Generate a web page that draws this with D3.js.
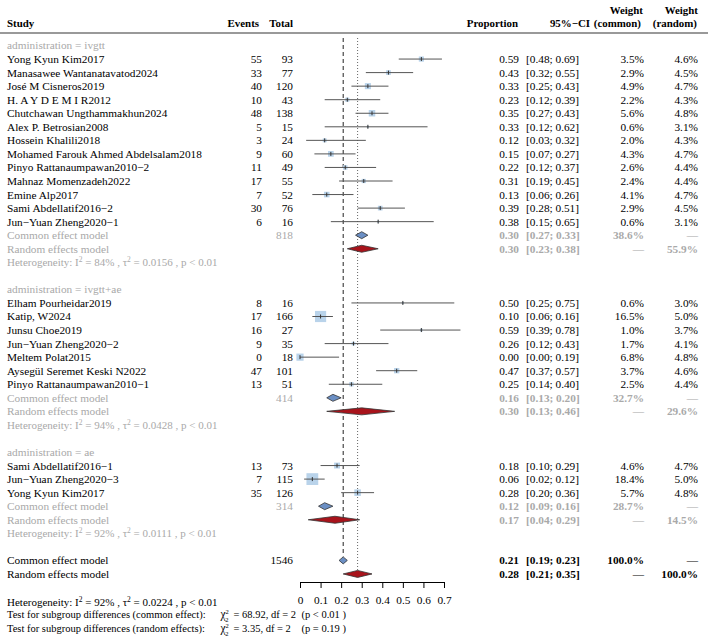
<!DOCTYPE html>
<html>
<head>
<meta charset="utf-8">
<script src="https://cdn.jsdelivr.net/npm/d3@7/dist/d3.min.js"></script>
<style>
  body { margin: 0; background: #fff; }
</style>
</head>
<body>
<div id="chart"></div>
<script>
// subgroup labels
const groups = ["ivgtt", "ivgtt+ae", "ae"];

// studies, in plotting order
const studyNames = [
  "Yong Kyun Kim2017", "Manasawee Wantanatavatod2024", "José M Cisneros2019", "H. A Y D E M I R2012",
  "Chutchawan Ungthammakhun2024", "Alex P. Betrosian2008", "Hossein Khalili2018",
  "Mohamed Farouk Ahmed Abdelsalam2018", "Pinyo Rattanaumpawan2010\u22122", "Mahnaz Momenzadeh2022",
  "Emine Alp2017", "Sami Abdellatif2016\u22122", "Jun\u2212Yuan Zheng2020\u22121",
  "Elham Pourheidar2019", "Katip, W2024", "Junsu Choe2019", "Jun\u2212Yuan Zheng2020\u22122",
  "Meltem Polat2015", "Aysegül Seremet Keski N2022", "Pinyo Rattanaumpawan2010\u22121",
  "Sami Abdellatif2016\u22121", "Jun\u2212Yuan Zheng2020\u22123", "Yong Kyun Kim2017"
];
const studyGroup = [0,0,0,0,0,0,0,0,0,0,0,0,0, 1,1,1,1,1,1,1, 2,2,2];
const events = [55,33,40,10,48,5,3,9,11,17,7,30,6, 8,17,16,9,0,47,13, 13,7,35];
const totals = [93,77,120,43,138,15,24,60,49,55,52,76,16, 16,166,27,35,18,101,51, 73,115,126];
const props  = [0.59,0.43,0.33,0.23,0.35,0.33,0.12,0.15,0.22,0.31,0.13,0.39,0.38, 0.50,0.10,0.59,0.26,0.00,0.47,0.25, 0.18,0.06,0.28];
const lowers = [0.48,0.32,0.25,0.12,0.27,0.12,0.03,0.07,0.12,0.19,0.06,0.28,0.15, 0.25,0.06,0.39,0.12,0.00,0.37,0.14, 0.10,0.02,0.20];
const uppers = [0.69,0.55,0.43,0.39,0.43,0.62,0.32,0.27,0.37,0.45,0.26,0.51,0.65, 0.75,0.16,0.78,0.43,0.19,0.57,0.40, 0.29,0.12,0.36];
const wCommon = [3.5,2.9,4.9,2.2,5.6,0.6,2.0,4.3,2.6,2.4,4.1,2.9,0.6, 0.6,16.5,1.0,1.7,6.8,3.7,2.5, 4.6,18.4,5.7];
const wRandom = [4.6,4.5,4.7,4.3,4.8,3.1,4.3,4.7,4.4,4.4,4.7,4.5,3.1, 3.0,5.0,3.7,4.1,4.8,4.6,4.4, 4.7,5.0,4.8];

// subgroup summaries
const grpN = [818, 414, 314];
const grpCommon = [[0.30,0.27,0.33],[0.16,0.13,0.20],[0.12,0.09,0.16]];
const grpCommonW = [38.6, 32.7, 28.7];
const grpRandom = [[0.30,0.23,0.38],[0.30,0.13,0.46],[0.17,0.04,0.29]];
const grpRandomW = [55.9, 29.6, 14.5];
const grpI2 = ["84%", "94%", "92%"];
const grpTau2 = ["0.0156", "0.0428", "0.0111"];

// overall
const totalN = 1546;
const allCommon = [0.21, 0.19, 0.23];
const allRandom = [0.28, 0.21, 0.35];
const allI2 = "92%", allTau2 = "0.0224";
const testCommon = ["68.92", "2", "p < 0.01"];
const testRandom = ["3.35", "2", "p = 0.19"];

const xTicks = [0, 0.1, 0.2, 0.3, 0.4, 0.5, 0.6, 0.7];

const W = 708, H = 636;
const gray = "#a9a9a9";
const fs = 11.3;
const serif = "'Liberation Serif', 'Times New Roman', serif";

const svg = d3.select("#chart").append("svg")
  .attr("width", W).attr("height", H)
  .style("font-family", serif);

const x = d3.scaleLinear().domain([0, 0.7]).range([300, 444]);
const y = d3.scaleLinear().domain([0, 1]).range([45.5, 45.5 + 13.55]);

const col = { study: 7, events: 262, total: 293, prop: 519, ci: 526, wc: 644, wr: 698 };
const fmt = d3.format(".2f");
const ciText = (lo, hi) => "[" + fmt(lo) + "; " + fmt(hi) + "]";

function txt(xp, yp, s, opt = {}) {
  return svg.append("text")
    .attr("x", xp).attr("y", yp).attr("dy", "0.35em")
    .style("font-family", serif)
    .attr("text-anchor", opt.anchor || "start")
    .attr("font-size", opt.size || fs)
    .attr("font-weight", opt.bold ? "bold" : "normal")
    .attr("fill", opt.color || "#000")
    .text(s);
}

// header
const hY1 = 10, hY2 = 23, hs = 10.9;
txt(col.study, hY2, "Study", { bold: true, size: hs });
txt(259, hY2, "Events", { bold: true, anchor: "end", size: hs });
txt(col.total, hY2, "Total", { bold: true, anchor: "end", size: hs });
txt(518, hY2, "Proportion", { bold: true, anchor: "end", size: hs });
txt(590, hY2, "95%\u2212CI", { bold: true, anchor: "end", size: hs });
txt(643, hY1, "Weight", { bold: true, anchor: "end", size: hs });
txt(641, hY2, "(common)", { bold: true, anchor: "end", size: hs });
txt(698, hY1, "Weight", { bold: true, anchor: "end", size: hs });
txt(697, hY2, "(random)", { bold: true, anchor: "end", size: hs });
svg.append("line").attr("x1", 0).attr("x2", W).attr("y1", 33).attr("y2", 33)
  .attr("stroke", "#999").attr("stroke-width", 2);

// build row layout
let row = 0;
const rowOfGroup = [], rowOfStudy = [], rowOfCommon = [], rowOfRandom = [], rowOfHet = [];
groups.forEach((g, gi) => {
  rowOfGroup[gi] = row++;
  studyNames.forEach((s, i) => { if (studyGroup[i] === gi) rowOfStudy[i] = row++; });
  rowOfCommon[gi] = row++;
  rowOfRandom[gi] = row++;
  rowOfHet[gi] = row++;
  row++;
});
const rowAllCommon = row, rowAllRandom = row + 1;

// reference lines
svg.append("line")
  .attr("x1", x(allCommon[0])).attr("x2", x(allCommon[0]))
  .attr("y1", 38).attr("y2", y(rowAllCommon) - 4)
  .attr("stroke", "#222").attr("stroke-width", 1).attr("stroke-dasharray", "4,3");
svg.append("line")
  .attr("x1", x(allRandom[0])).attr("x2", x(allRandom[0]))
  .attr("y1", 38).attr("y2", y(rowAllRandom) - 4)
  .attr("stroke", "#666").attr("stroke-width", 1).attr("stroke-dasharray", "1,2");

function diamond(est, lo, hi, r, fill) {
  const yc = y(r), h = 3.5;
  svg.append("path")
    .attr("d", `M${x(lo)},${yc}L${x(est)},${yc - h}L${x(hi)},${yc}L${x(est)},${yc + h}Z`)
    .attr("fill", fill).attr("stroke", "#333").attr("stroke-width", 0.8);
}

function hetLine(r, i2, tau2, color) {
  const yp = y(r);
  const t = svg.append("text").attr("x", col.study).attr("y", yp).attr("dy", "0.35em")
    .style("font-family", serif).attr("font-size", 11).attr("fill", color);
  t.append("tspan").text("Heterogeneity:   I");
  t.append("tspan").attr("dy", -4).attr("font-size", 7.5).text("2");
  t.append("tspan").attr("dy", 4).text(" = " + i2 + " , \u03c4");
  t.append("tspan").attr("dy", -4).attr("font-size", 7.5).text("2");
  t.append("tspan").attr("dy", 4).text(" = " + tau2 + " ,  p < 0.01");
}

// groups
groups.forEach((g, gi) => {
  txt(col.study, y(rowOfGroup[gi]), "administration = " + g, { color: gray });

  const c = grpCommon[gi], rr = grpRandom[gi];
  txt(col.study, y(rowOfCommon[gi]), "Common effect model", { color: gray });
  txt(col.total, y(rowOfCommon[gi]), grpN[gi], { color: gray, anchor: "end" });
  txt(col.prop, y(rowOfCommon[gi]), fmt(c[0]), { color: gray, anchor: "end", bold: true });
  txt(col.ci, y(rowOfCommon[gi]), ciText(c[1], c[2]), { color: gray, bold: true });
  txt(col.wc, y(rowOfCommon[gi]), grpCommonW[gi].toFixed(1) + "%", { color: gray, anchor: "end", bold: true });
  txt(col.wr, y(rowOfCommon[gi]), "\u2014", { color: gray, anchor: "end", bold: true });
  diamond(c[0], c[1], c[2], rowOfCommon[gi], "#6b8fc4");

  txt(col.study, y(rowOfRandom[gi]), "Random effects model", { color: gray });
  txt(col.prop, y(rowOfRandom[gi]), fmt(rr[0]), { color: gray, anchor: "end", bold: true });
  txt(col.ci, y(rowOfRandom[gi]), ciText(rr[1], rr[2]), { color: gray, bold: true });
  txt(col.wc, y(rowOfRandom[gi]), "\u2014", { color: gray, anchor: "end", bold: true });
  txt(col.wr, y(rowOfRandom[gi]), grpRandomW[gi].toFixed(1) + "%", { color: gray, anchor: "end", bold: true });
  diamond(rr[0], rr[1], rr[2], rowOfRandom[gi], "#a8131b");

  hetLine(rowOfHet[gi], grpI2[gi], grpTau2[gi], gray);
});

// studies
const sq = d3.scaleSqrt().domain([0, 18.4]).range([0, 11.8]);
studyNames.forEach((s, i) => {
  const yc = y(rowOfStudy[i]);
  txt(col.study, yc, s);
  txt(col.events, yc, events[i], { anchor: "end" });
  txt(col.total, yc, totals[i], { anchor: "end" });
  txt(col.prop, yc, fmt(props[i]), { anchor: "end" });
  txt(col.ci, yc, ciText(lowers[i], uppers[i]));
  txt(col.wc, yc, wCommon[i].toFixed(1) + "%", { anchor: "end" });
  txt(col.wr, yc, wRandom[i].toFixed(1) + "%", { anchor: "end" });

  const sz = sq(wCommon[i]);
  svg.append("rect")
    .attr("x", x(props[i]) - sz / 2).attr("y", yc - sz / 2)
    .attr("width", sz).attr("height", sz)
    .attr("fill", "#b9d3ea");
  svg.append("line")
    .attr("x1", x(lowers[i])).attr("x2", x(uppers[i]))
    .attr("y1", yc).attr("y2", yc)
    .attr("stroke", "#555").attr("stroke-width", 1);
  svg.append("line")
    .attr("x1", x(props[i])).attr("x2", x(props[i]))
    .attr("y1", yc - 2).attr("y2", yc + 2)
    .attr("stroke", "#333").attr("stroke-width", 1);
});

// overall
const yac = y(rowAllCommon), yar = y(rowAllRandom);
txt(col.study, yac, "Common effect model");
txt(col.total, yac, totalN, { anchor: "end" });
txt(col.prop, yac, fmt(allCommon[0]), { anchor: "end", bold: true });
txt(col.ci, yac, ciText(allCommon[1], allCommon[2]), { bold: true });
txt(col.wc, yac, "100.0%", { anchor: "end", bold: true });
txt(col.wr, yac, "\u2014", { anchor: "end", bold: true });
diamond(allCommon[0], allCommon[1], allCommon[2], rowAllCommon, "#6b8fc4");

txt(col.study, yar, "Random effects model");
txt(col.prop, yar, fmt(allRandom[0]), { anchor: "end", bold: true });
txt(col.ci, yar, ciText(allRandom[1], allRandom[2]), { bold: true });
txt(col.wc, yar, "\u2014", { anchor: "end", bold: true });
txt(col.wr, yar, "100.0%", { anchor: "end", bold: true });
diamond(allRandom[0], allRandom[1], allRandom[2], rowAllRandom, "#a8131b");

// axis
const axisY = 582;
const axisG = svg.append("g").attr("transform", `translate(0,${axisY})`)
  .call(d3.axisBottom(x).tickValues(xTicks).tickFormat(d => d === 0 ? "0" : d3.format(".1f")(d)).tickSize(6).tickPadding(8));
axisG.style("font-family", serif);
axisG.select(".domain").attr("stroke", "#000");
axisG.selectAll("text").style("font-family", serif).attr("font-size", 11.3);

// overall heterogeneity + tests
hetLine(41.1, allI2, allTau2, "#000");
function testLine(yp, label, vals) {
  txt(col.study, yp, label, { size: 10.5 });
  // chi-square with stacked super/subscript in one text element
  const t = svg.append("text").attr("x", 220.5).attr("y", yp).attr("dy", "0.35em")
    .style("font-family", serif).attr("font-size", 11.5).attr("fill", "#000");
  t.append("tspan").text("\u03c7");
  t.append("tspan").attr("dy", -4).attr("font-size", 6.5).text("2");
  t.append("tspan").attr("dx", -3.6).attr("dy", 7.5).attr("font-size", 6.5).text("2");
  txt(233.5, yp, "= " + vals[0] + ", df = " + vals[1], { size: 10.5 });
  txt(301.5, yp, "(" + vals[2] + " )", { size: 10.5 });
}
testLine(614, "Test for subgroup differences (common effect):", testCommon);
testLine(628, "Test for subgroup differences (random effects):", testRandom);
</script>
</body>
</html>
